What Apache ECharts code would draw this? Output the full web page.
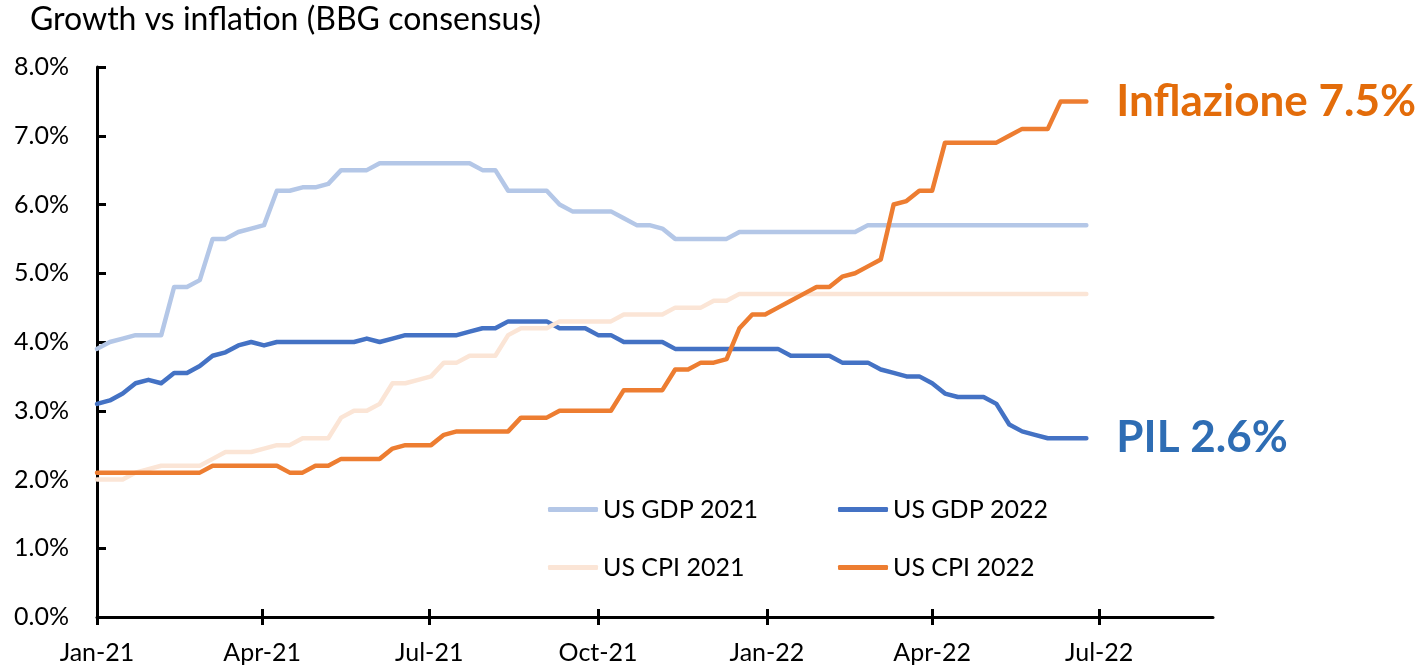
<!DOCTYPE html>
<html>
<head>
<meta charset="utf-8">
<script src="https://cdn.jsdelivr.net/npm/echarts@6/dist/echarts.min.js"></script>
<style>
  html, body { margin: 0; padding: 0; background: #fff; }
  #main { width: 1424px; height: 667px; }
</style>
</head>
<body>
<div id="main"></div>
<script>
// weekly readings (Fridays) from 1 Jan 2021, 78 weeks
const weekCount = 78;
const weeks = [];
for (let i = 0; i < weekCount; i++) {
  weeks.push(new Date(2021, 0, 1 + 7 * i).getTime());
}

const gdp2021 = [
  3.9, 4.0, 4.05, 4.1, 4.1, 4.1, 4.8, 4.8, 4.9, 5.5,
  5.5, 5.6, 5.65, 5.7, 6.2, 6.2, 6.25, 6.25, 6.3, 6.5,
  6.5, 6.5, 6.6, 6.6, 6.6, 6.6, 6.6, 6.6, 6.6, 6.6,
  6.5, 6.5, 6.2, 6.2, 6.2, 6.2, 6.0, 5.9, 5.9, 5.9,
  5.9, 5.8, 5.7, 5.7, 5.65, 5.5, 5.5, 5.5, 5.5, 5.5,
  5.6, 5.6, 5.6, 5.6, 5.6, 5.6, 5.6, 5.6, 5.6, 5.6,
  5.7, 5.7, 5.7, 5.7, 5.7, 5.7, 5.7, 5.7, 5.7, 5.7,
  5.7, 5.7, 5.7, 5.7, 5.7, 5.7, 5.7, 5.7
];
const gdp2022 = [
  3.1, 3.15, 3.25, 3.4, 3.45, 3.4, 3.55, 3.55, 3.65, 3.8,
  3.85, 3.95, 4.0, 3.95, 4.0, 4.0, 4.0, 4.0, 4.0, 4.0,
  4.0, 4.05, 4.0, 4.05, 4.1, 4.1, 4.1, 4.1, 4.1, 4.15,
  4.2, 4.2, 4.3, 4.3, 4.3, 4.3, 4.2, 4.2, 4.2, 4.1,
  4.1, 4.0, 4.0, 4.0, 4.0, 3.9, 3.9, 3.9, 3.9, 3.9,
  3.9, 3.9, 3.9, 3.9, 3.8, 3.8, 3.8, 3.8, 3.7, 3.7,
  3.7, 3.6, 3.55, 3.5, 3.5, 3.4, 3.25, 3.2, 3.2, 3.2,
  3.1, 2.8, 2.7, 2.65, 2.6, 2.6, 2.6, 2.6
];
const cpi2021 = [
  2.0, 2.0, 2.0, 2.1, 2.15, 2.2, 2.2, 2.2, 2.2, 2.3,
  2.4, 2.4, 2.4, 2.45, 2.5, 2.5, 2.6, 2.6, 2.6, 2.9,
  3.0, 3.0, 3.1, 3.4, 3.4, 3.45, 3.5, 3.7, 3.7, 3.8,
  3.8, 3.8, 4.1, 4.2, 4.2, 4.2, 4.3, 4.3, 4.3, 4.3,
  4.3, 4.4, 4.4, 4.4, 4.4, 4.5, 4.5, 4.5, 4.6, 4.6,
  4.7, 4.7, 4.7, 4.7, 4.7, 4.7, 4.7, 4.7, 4.7, 4.7,
  4.7, 4.7, 4.7, 4.7, 4.7, 4.7, 4.7, 4.7, 4.7, 4.7,
  4.7, 4.7, 4.7, 4.7, 4.7, 4.7, 4.7, 4.7
];
const cpi2022 = [
  2.1, 2.1, 2.1, 2.1, 2.1, 2.1, 2.1, 2.1, 2.1, 2.2,
  2.2, 2.2, 2.2, 2.2, 2.2, 2.1, 2.1, 2.2, 2.2, 2.3,
  2.3, 2.3, 2.3, 2.45, 2.5, 2.5, 2.5, 2.65, 2.7, 2.7,
  2.7, 2.7, 2.7, 2.9, 2.9, 2.9, 3.0, 3.0, 3.0, 3.0,
  3.0, 3.3, 3.3, 3.3, 3.3, 3.6, 3.6, 3.7, 3.7, 3.75,
  4.2, 4.4, 4.4, 4.5, 4.6, 4.7, 4.8, 4.8, 4.95, 5.0,
  5.1, 5.2, 6.0, 6.05, 6.2, 6.2, 6.9, 6.9, 6.9, 6.9,
  6.9, 7.0, 7.1, 7.1, 7.1, 7.5, 7.5, 7.5
];

const seriesNames = ['US GDP 2021', 'US GDP 2022', 'US CPI 2021', 'US CPI 2022'];
const seriesColors = ['#B4C7E7', '#4472C4', '#FBE5D6', '#ED7D31'];

const tickDates = ['2021-01-01', '2021-04-01', '2021-07-01', '2021-10-01', '2022-01-01', '2022-04-01', '2022-07-01'];
const tickLabels = ['Jan-21', 'Apr-21', 'Jul-21', 'Oct-21', 'Jan-22', 'Apr-22', 'Jul-22'];

const toTime = s => {
  const p = s.split('-').map(Number);
  return new Date(p[0], p[1] - 1, p[2]).getTime();
};
const tickTimes = tickDates.map(toTime);
const axisMin = toTime('2021-01-01');
const axisMax = toTime('2022-09-01');

const font = 'Lato, "Open Sans", sans-serif';

function pairs(vals) {
  return vals.map((v, i) => [weeks[i], v]);
}

function lineSeries(idx, vals, extra) {
  return Object.assign({
    name: seriesNames[idx],
    type: 'line',
    data: pairs(vals),
    symbol: 'none',
    smooth: false,
    color: seriesColors[idx],
    lineStyle: { width: 4.5, color: seriesColors[idx], cap: 'round', join: 'round' }
  }, extra || {});
}

function legendAt(name, left, top) {
  return {
    data: [name],
    left: left,
    top: top,
    padding: 0,
    icon: 'roundRect',
    itemWidth: 50,
    itemHeight: 5,
    selectedMode: false,
    textStyle: { fontSize: 25, fontFamily: font, color: '#000' }
  };
}

function tickLabel(v) {
  for (let i = 0; i < tickTimes.length; i++) {
    if (Math.abs(tickTimes[i] - v) < 86400000) return tickLabels[i];
  }
  return '';
}

const chart = echarts.init(document.getElementById('main'));

chart.setOption({
  animation: false,
  backgroundColor: '#fff',
  title: {
    text: 'Growth vs inflation (BBG consensus)',
    left: 30,
    top: 4,
    padding: 0,
    textStyle: { fontSize: 32, fontWeight: 'normal', fontFamily: font, color: '#000' }
  },
  grid: { left: 97, top: 67, width: 1116, height: 550 },
  legend: [
    legendAt('US GDP 2021', 548, 497),
    legendAt('US GDP 2022', 838, 497),
    legendAt('US CPI 2021', 548, 555),
    legendAt('US CPI 2022', 838, 555)
  ],
  xAxis: [
    {
      type: 'value',
      min: axisMin,
      max: axisMax,
      axisLine: { show: true, lineStyle: { color: '#000', width: 3 } },
      axisTick: { show: true, inside: true, length: 8, customValues: tickTimes, lineStyle: { color: '#000', width: 3 } },
      axisLabel: {
        customValues: tickTimes,
        formatter: tickLabel,
        fontSize: 25,
        fontFamily: font,
        color: '#000',
        margin: 23
      },
      splitLine: { show: false }
    },
    {
      type: 'value',
      position: 'bottom',
      min: axisMin,
      max: axisMax,
      axisLine: { show: false },
      axisTick: { show: true, inside: false, length: 8, customValues: tickTimes, lineStyle: { color: '#000', width: 3 } },
      axisLabel: { show: false },
      splitLine: { show: false }
    }
  ],
  yAxis: {
    type: 'value',
    min: 0,
    max: 8,
    interval: 1,
    axisLine: { show: true, lineStyle: { color: '#000', width: 3 } },
    axisTick: { show: true, inside: true, length: 9, lineStyle: { color: '#000', width: 3 } },
    axisLabel: {
      formatter: v => v.toFixed(1) + '%',
      fontSize: 25,
      fontFamily: font,
      color: '#000',
      margin: 28
    },
    splitLine: { show: false }
  },
  series: [
    lineSeries(0, gdp2021),
    lineSeries(1, gdp2022, {
      endLabel: {
        show: true,
        distance: 30,
        formatter: p => 'PIL ' + p.value[1].toFixed(1) + '%',
        color: '#2E6DB4',
        fontSize: 44,
        fontWeight: 'bold',
        fontFamily: font
      }
    }),
    lineSeries(2, cpi2021),
    lineSeries(3, cpi2022, {
      endLabel: {
        show: true,
        distance: 30,
        formatter: p => 'Inflazione ' + p.value[1].toFixed(1) + '%',
        color: '#E36C0A',
        fontSize: 44,
        fontWeight: 'bold',
        fontFamily: font
      }
    })
  ]
});
</script>
</body>
</html>
